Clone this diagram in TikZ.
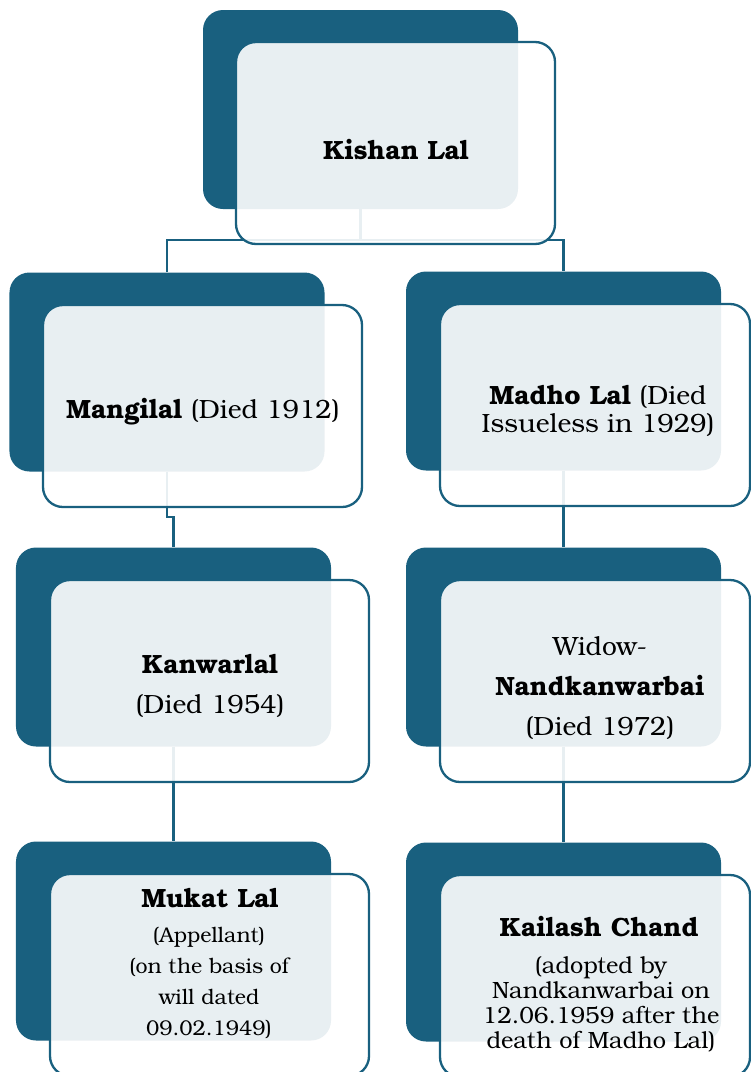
\documentclass[tikz,border=0pt]{standalone}
\usepackage{fontspec}
\setmainfont{TeX Gyre Bonum}
\definecolor{tealblue}{HTML}{19607F}
\tikzset{
  backbox/.style={rectangle, rounded corners=20bp, fill=tealblue, inner sep=0pt, minimum width=315bp, minimum height=199bp},
  frontbox/.style={rectangle, rounded corners=20bp, draw=tealblue, line width=2.3bp, fill=white, fill opacity=0.9, inner sep=0pt, minimum width=319bp, minimum height=202bp},
  link/.style={draw=tealblue, line width=2.3bp},
  txt/.style={align=center, inner sep=0pt, text=black},
}
\begin{document}
\begin{tikzpicture}[x=1bp,y=-1bp]
\useasboundingbox (0,0) rectangle (751,1072);
% back boxes
\node[backbox] (kd) at (360.5,109.5) {};
\node[backbox] (md) at (167,372) {};
\node[backbox] (dd) at (563.5,371) {};
\node[backbox] (kwd) at (173.5,647) {};
\node[backbox] (wd) at (563.5,647) {};
\node[backbox] (mld) at (173.5,941) {};
\node[backbox] (kcd) at (563.5,942) {};
% connectors
\draw[link] (kd.south) -- ++(0,31) -| (md.north);
\draw[link] (kd.south) -- ++(0,31) -| (dd.north);
\draw[link] (md.south) -- ++(0,45) -| (kwd.north);
\draw[link] (dd.south) -- (wd.north);
\draw[link] (kwd.south) -- (mld.north);
\draw[link] (wd.south) -- (kcd.north);
% front boxes
\node[frontbox] (kf) at (395.5,143) {};
\node[frontbox] (mf) at (202.5,406) {};
\node[frontbox, minimum width=310bp] (df) at (595,405) {};
\node[frontbox] (kwf) at (209.5,681) {};
\node[frontbox, minimum width=310bp] (wf) at (595,681) {};
\node[frontbox] (mlf) at (209.5,975) {};
\node[frontbox, minimum width=310bp] (kcf) at (595,976) {};
% texts
\node[txt, font=\fontsize{26.5}{28}\selectfont] (kt) at (396,150) {\textbf{Kishan Lal}};
\node[txt, font=\fontsize{26.5}{28}\selectfont] (mt) at (203,412) {\textbf{Mangilal} (Died 1912)};
\node[txt, font=\fontsize{26.5}{28}\selectfont] (dt) at (598,411) {\textbf{Madho Lal} (Died\\Issueless in 1929)};
\node[txt, font=\fontsize{26.5}{40}\selectfont] (kwt) at (210,686) {\textbf{Kanwarlal}\\(Died 1954)};
\node[txt, font=\fontsize{26.5}{40}\selectfont] (wt) at (600,688) {Widow-\\\textbf{Nandkanwarbai}\\(Died 1972)};
\node[txt, font=\fontsize{26.5}{28}\selectfont] (mlt) at (210,898) {\textbf{Mukat Lal}};
\node[txt, font=\fontsize{21.4}{31}\selectfont] (mls) at (209,983) {(Appellant)\\(on the basis of\\will dated\\09.02.1949)};
\node[txt, font=\fontsize{26.5}{28}\selectfont] (kct) at (599,927) {\textbf{Kailash Chand}};
\node[txt, font=\fontsize{23.6}{25}\selectfont] (kcs) at (601,1004) {(adopted by\\Nandkanwarbai on\\12.06.1959 after the\\death of Madho Lal)};
\end{tikzpicture}
\end{document}
